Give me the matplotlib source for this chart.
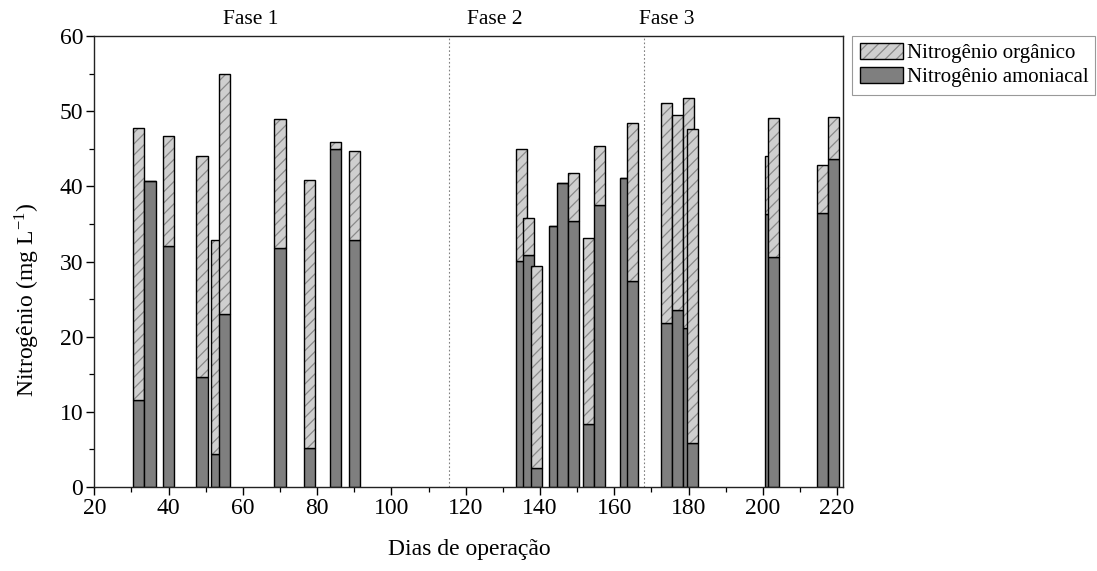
import matplotlib
matplotlib.use("Agg")
import matplotlib.pyplot as plt
from matplotlib.patches import Patch
from matplotlib.legend_handler import HandlerTuple
from matplotlib.ticker import MultipleLocator

plt.rcParams["font.family"] = ["Liberation Serif", "DejaVu Serif"]
plt.rcParams["mathtext.fontset"] = "stix"
plt.rcParams["hatch.linewidth"] = 0.9

# Sampling day of each measurement
days = [32, 35, 40, 49, 53, 55, 70, 78, 85, 90,
        135, 137, 139, 144, 146, 149, 153, 156, 163, 165,
        174, 177, 180, 181, 202, 203, 216, 219]

# Ammoniacal nitrogen (mg/L)
amoniacal = [11.6, 40.7, 32.1, 14.6, 4.4, 23.0, 31.8, 5.2, 45.0, 32.9,
             30.1, 30.9, 2.5, 34.7, 40.4, 35.4, 8.4, 37.5, 41.1, 27.4,
             21.8, 23.6, 21.2, 5.8, 36.3, 30.6, 36.5, 43.6]

# Organic nitrogen (mg/L), stacked on top of the ammoniacal fraction
organico = [36.2, 0.0, 14.6, 29.5, 28.4, 31.9, 17.1, 35.6, 0.9, 11.8,
            14.9, 4.9, 26.9, 0.0, 0.0, 6.4, 24.7, 7.9, 0.0, 21.0,
            29.3, 25.9, 30.5, 41.8, 7.7, 18.5, 6.3, 5.6]

# Phase boundaries and labels
phase_limits = [115.5, 168]
phase_names = ["Fase 1", "Fase 2", "Fase 3"]
phase_label_x = [62, 127.7, 174.2]

x_ticks = list(range(20, 221, 20))
y_ticks = list(range(0, 61, 10))

BAR_W = 3.0
C_AMON = "#7f7f7f"
C_ORG = "#cfcfcf"
C_HATCH = "#8a8a8a"

fig = plt.figure(figsize=(10.97, 5.71), dpi=100)
ax = fig.add_axes([0.086, 0.147, 0.6828, 0.790])

for i, (d, a, o) in enumerate(zip(days, amoniacal, organico)):
    z = 2 + i * 0.01
    ax.bar(d, a, width=BAR_W, color=C_AMON, edgecolor="black",
           linewidth=1.0, zorder=z)
    ax.bar(d, o, bottom=a, width=BAR_W, color=C_ORG, hatch="///",
           edgecolor=C_HATCH, linewidth=0, zorder=z)
    ax.bar(d, o, bottom=a, width=BAR_W, fill=False, edgecolor="black",
           linewidth=1.0, zorder=z + 0.001)

for xv in phase_limits:
    ax.axvline(xv, color="#808080", linestyle=(0, (1.5, 2)), linewidth=0.8,
               zorder=1)

for name, xv in zip(phase_names, phase_label_x):
    ax.text(xv, 1.015, name, transform=ax.get_xaxis_transform(),
            ha="center", va="bottom", fontsize=15.5)

ax.set_xlim(20, 221.7)
ax.set_ylim(0, 60)
ax.set_xticks(x_ticks)
ax.set_yticks(y_ticks)
ax.xaxis.set_minor_locator(MultipleLocator(10))
ax.yaxis.set_minor_locator(MultipleLocator(5))
ax.tick_params(axis="both", which="major", direction="out", length=6,
               width=1.0, labelsize=17, pad=2)
ax.tick_params(axis="both", which="minor", direction="out", length=3.5,
               width=0.9)
for sp in ax.spines.values():
    sp.set_linewidth(1.0)
    sp.set_color("#222222")

ax.set_xlabel("Dias de operação", fontsize=17, labelpad=14)
ax.set_ylabel(r"Nitrogênio (mg L$^{\mathregular{-1}}$)", fontsize=17)
ax.yaxis.set_label_coords(-0.070, 0.415)

h_org_fill = Patch(facecolor=C_ORG, hatch="///", edgecolor=C_HATCH,
                   linewidth=0)
h_org_edge = Patch(fill=False, edgecolor="black", linewidth=1.0)
h_amon = Patch(facecolor=C_AMON, edgecolor="black", linewidth=1.0)
leg = ax.legend([(h_org_fill, h_org_edge), h_amon],
                ["Nitrogênio orgânico", "Nitrogênio amoniacal"],
                handler_map={tuple: HandlerTuple(ndivide=1, pad=0)},
                loc="upper left", bbox_to_anchor=(1.012, 1.0),
                borderaxespad=0, fontsize=15, frameon=True, fancybox=False,
                edgecolor="#999999", framealpha=1, borderpad=0.35,
                labelspacing=0.2, handlelength=2.1, handleheight=0.75,
                handletextpad=0.15)
leg.get_frame().set_linewidth(0.8)

fig.savefig("out.png", dpi=100)
